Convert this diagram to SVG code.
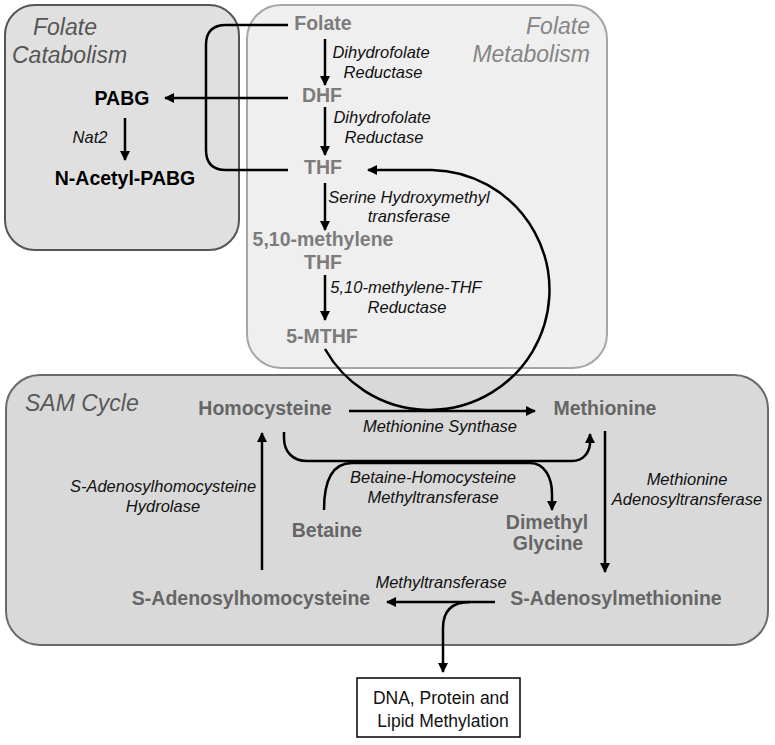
<svg xmlns="http://www.w3.org/2000/svg" width="775" height="745" viewBox="0 0 775 745">
<defs>
<style>
.t{font-family:"Liberation Sans",Arial,sans-serif}
.title{font-size:23px;font-style:italic}
.node{font-size:19.5px;font-weight:bold}
.fn{fill:#7c7c7c}
.sn{fill:#666}
.enz{font-size:16.5px;font-style:italic;fill:#111}
.ln{fill:none;stroke:#000;stroke-width:2.5}
</style>
<marker id="ah" viewBox="0 0 10 10" refX="9" refY="5" markerWidth="11" markerHeight="10" markerUnits="userSpaceOnUse" orient="auto">
<path d="M0,0 L10,5 L0,10 z" fill="#000"/>
</marker>
</defs>
<rect width="775" height="745" fill="#fff"/>
<g id="folate-catabolism">
<rect x="5" y="5" width="234" height="245" rx="30" fill="#e0e0e0" stroke="#555" stroke-width="2"/>
<text class="t title" x="33" y="35" fill="#555">Folate</text>
<text class="t title" x="12" y="63" fill="#555">Catabolism</text>
</g>
<g id="folate-metabolism">
<rect x="247" y="5" width="360" height="363" rx="34" fill="#efefef" stroke="#a6a6a6" stroke-width="2"/>
<text class="t title" x="590" y="34" text-anchor="end" fill="#858585">Folate</text>
<text class="t title" x="590" y="62" text-anchor="end" fill="#858585">Metabolism</text>
</g>
<g id="sam-cycle">
<rect x="6" y="375" width="762" height="270" rx="34" fill="#d9d9d9" stroke="#6a6a6a" stroke-width="2"/>
<text class="t title" x="25" y="411" fill="#595959">SAM Cycle</text>
</g>
<g id="dna-box">
<rect x="357" y="678" width="163" height="59" fill="#fff" stroke="#000" stroke-width="1.5"/>
<text class="t" x="441" y="704" font-size="17.5" text-anchor="middle" fill="#111">DNA, Protein and</text>
<text class="t" x="443" y="727" font-size="17.5" text-anchor="middle" fill="#111">Lipid Methylation</text>
</g>
<g id="node-folate"><text class="t node fn" x="323" y="30" text-anchor="middle">Folate</text></g>
<g id="node-dhf"><text class="t node fn" x="322" y="102" text-anchor="middle">DHF</text></g>
<g id="node-thf"><text class="t node fn" x="323" y="174" text-anchor="middle">THF</text></g>
<g id="node-methylene-thf"><text class="t node fn" x="323" y="246" text-anchor="middle">5,10-methylene</text><text class="t node fn" x="323" y="269" text-anchor="middle">THF</text></g>
<g id="node-5mthf"><text class="t node fn" x="322" y="343" text-anchor="middle">5-MTHF</text></g>
<g id="node-pabg"><text class="t node" x="122" y="105" text-anchor="middle" fill="#000">PABG</text></g>
<g id="node-nacetyl-pabg"><text class="t node" x="125" y="185" text-anchor="middle" fill="#000">N-Acetyl-PABG</text></g>
<g id="node-homocysteine"><text class="t node sn" x="265" y="415" text-anchor="middle">Homocysteine</text></g>
<g id="node-methionine"><text class="t node sn" x="605" y="415" text-anchor="middle">Methionine</text></g>
<g id="node-betaine"><text class="t node sn" x="327" y="537" text-anchor="middle">Betaine</text></g>
<g id="node-dimethylglycine"><text class="t node sn" x="547" y="529" text-anchor="middle">Dimethyl</text><text class="t node sn" x="548" y="550" text-anchor="middle">Glycine</text></g>
<g id="node-sam"><text class="t node sn" x="616" y="605" text-anchor="middle">S-Adenosylmethionine</text></g>
<g id="node-sah"><text class="t node sn" x="251" y="605" text-anchor="middle">S-Adenosylhomocysteine</text></g>
<g id="connectors">
<path class="ln" d="M288,25 H226 Q206,25 206,45 V150 Q206,170 226,170 H288"/>
<path class="ln" d="M288,98 H165" marker-end="url(#ah)"/>
<path class="ln" d="M125,118 V160" marker-end="url(#ah)"/>
<path class="ln" d="M325,39 V85" marker-end="url(#ah)"/>
<path class="ln" d="M325,107 V155" marker-end="url(#ah)"/>
<path class="ln" d="M325,183 V230" marker-end="url(#ah)"/>
<path class="ln" d="M325,275 V320" marker-end="url(#ah)"/>
<path class="ln" d="M325,349 A120,120 0 1 0 432,170 H368" marker-end="url(#ah)"/>
<path class="ln" d="M349,411 H535" marker-end="url(#ah)"/>
<path class="ln" d="M284,432 V438 C284,452 293,461 307,461 H572 C584,461 589,452 590,444 V434" marker-end="url(#ah)"/>
<path class="ln" d="M324,510 C324,482 332,463 352,463 H530 C545,463 552,478 552,494 V510" marker-end="url(#ah)"/>
<path class="ln" d="M605,431 V572" marker-end="url(#ah)"/>
<path class="ln" d="M262,570 V433" marker-end="url(#ah)"/>
<path class="ln" d="M495,602 H387" marker-end="url(#ah)"/>
<path class="ln" d="M470,602 Q443,602 443,628 V672" marker-end="url(#ah)"/>
</g>
<g id="labels">
<text class="t enz" x="381" y="58" text-anchor="middle">Dihydrofolate</text>
<text class="t enz" x="383" y="78" text-anchor="middle">Reductase</text>
<text class="t enz" x="382" y="123" text-anchor="middle">Dihydrofolate</text>
<text class="t enz" x="384" y="143" text-anchor="middle">Reductase</text>
<text class="t enz" x="409" y="203" text-anchor="middle">Serine Hydroxymethyl</text>
<text class="t enz" x="409" y="222" text-anchor="middle">transferase</text>
<text class="t enz" x="406" y="293" text-anchor="middle">5,10-methylene-THF</text>
<text class="t enz" x="407" y="313" text-anchor="middle">Reductase</text>
<text class="t enz" x="90" y="143" text-anchor="middle">Nat2</text>
<text class="t enz" x="440" y="432" text-anchor="middle">Methionine Synthase</text>
<text class="t enz" x="433" y="483" text-anchor="middle">Betaine-Homocysteine</text>
<text class="t enz" x="433" y="503" text-anchor="middle">Methyltransferase</text>
<text class="t enz" x="687" y="485" text-anchor="middle">Methionine</text>
<text class="t enz" x="687" y="505" text-anchor="middle">Adenosyltransferase</text>
<text class="t enz" x="163" y="492" text-anchor="middle">S-Adenosylhomocysteine</text>
<text class="t enz" x="163" y="512" text-anchor="middle">Hydrolase</text>
<text class="t enz" x="441" y="588" text-anchor="middle">Methyltransferase</text>
</g>
</svg>
